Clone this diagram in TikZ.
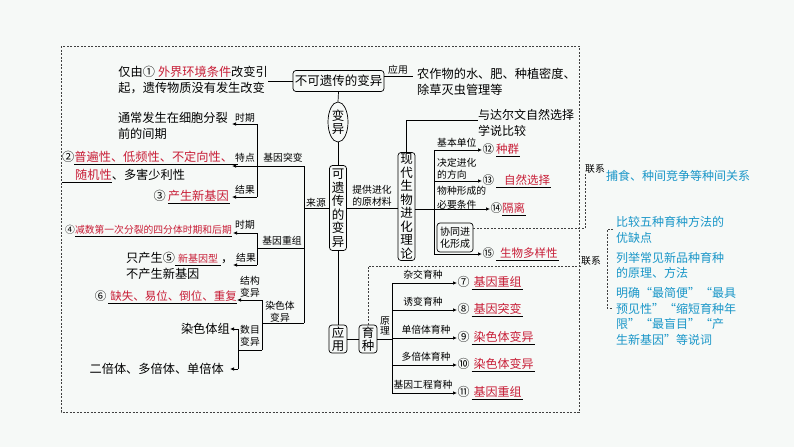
\documentclass[tikz,border=0pt]{standalone}
\usepackage{fontspec}
\setmainfont{Noto Sans CJK SC}
\usetikzlibrary{shapes.geometric,arrows.meta}
\definecolor{ansred}{RGB}{200,30,55}
\definecolor{tealc}{RGB}{25,150,200}
\definecolor{bgc}{RGB}{246,249,247}
\newcommand{\ans}[1]{\textcolor{ansred}{#1}}
\begin{document}
\begin{tikzpicture}[x=1pt,y=-1pt,
  box/.style={draw, rounded corners=3pt, line width=0.7pt, inner sep=1pt, align=center, font=\fontsize{12.5}{13.5}\selectfont},
  vbox/.style={box, minimum width=17pt},
  lab/.style={inner sep=0pt, font=\fontsize{9.8}{11.5}\selectfont, align=left},
  txt/.style={inner sep=0pt, font=\fontsize{12.2}{15.5}\selectfont, align=left},
  ansn/.style={inner sep=0.5pt, anchor=west, font=\fontsize{12}{14}\selectfont},
  tealt/.style={inner sep=0pt, text=tealc, font=\fontsize{12}{15.6}\selectfont, align=left},
  arr/.style={line width=0.7pt, -{Latex[length=4pt,width=3.5pt]}},
  ln/.style={line width=0.7pt},
  dsh/.style={line width=0.6pt, dash pattern=on 2pt off 1.5pt, draw=black!75},
]
\useasboundingbox (0,0) rectangle (794,447);
\fill[bgc] (0,0) rectangle (794,447);

% outer dashed frame
\draw[dsh] (61,46) rectangle (579,412);

% ---------- boxes ----------
\node[box, minimum width=91pt, minimum height=21pt] (bkyc) at (338.5,81) {不可遗传的变异};
\node[draw, ellipse, line width=0.7pt, minimum width=20pt, minimum height=40pt, inner sep=0pt, align=center, font=\fontsize{12.5}{13.5}\selectfont] (by) at (338,122) {变\\异};
\node[vbox, minimum height=85pt] (kyc) at (338,208) {可\\遗\\传\\的\\变\\异};
\node[vbox, minimum width=18pt, minimum height=28pt, font=\fontsize{12.5}{13}\selectfont] (yy) at (338,339) {应\\用};
\node[vbox, minimum width=18pt, minimum height=28pt, font=\fontsize{12.5}{13}\selectfont] (yz) at (368,339) {育\\种};
\node[vbox, minimum height=108pt] (xd) at (406.5,206.5) {现\\代\\生\\物\\进\\化\\理\\论};
\node[box, minimum width=36pt, minimum height=29pt, font=\fontsize{10}{12}\selectfont] (xt) at (455,237.5) {协同进\\化形成};

% ---------- top ----------
\node[txt, anchor=east] (t1) at (268,80) {仅由①\underline{\hspace{3pt}\ans{外界环境条件}}改变引\\起，遗传物质没有发生改变};
\node[txt, anchor=west] (t2) at (417,82) {农作物的水、肥、种植密度、\\除草灭虫管理等};
\draw[ln] (bkyc.west) -- (bkyc.west -| t1.east);
\draw[ln, shorten >=4pt] ([yshift=5pt]bkyc.east) -- ([yshift=5pt]bkyc.east -| t2.west);
\node[lab] at (398,70) {应用};

\draw[ln] (bkyc.south) -- (by.north);
\draw[ln] (by.south) -- (kyc.north);
\draw[ln] (kyc.south) -- (yy.north);
\draw[ln] (yy.east) -- (yz.west);

% ---------- left: sources ----------
\coordinate (L1) at (304,166);
\coordinate (L2) at (304,248);
\coordinate (L3) at (304,323);
\draw[ln] (kyc.west) -- (kyc.west -| L1);
\draw[ln] (L1) -- (L3);
\node[lab] at (316,203) {来源};

% gene mutation
\coordinate (A1) at (257,124); \coordinate (A2) at (257,166); \coordinate (A3) at (257,197);
\coordinate (TA1) at (232,124); \coordinate (TA2) at (232,166); \coordinate (TA3) at (232,197);
\draw[ln] (L1) -- (A2);
\draw[ln] (A1) -- (A3);
\draw[arr] (A1) -- (TA1);
\draw[arr] (A2) -- (TA2);
\draw[arr] (A3) -- (TA3);
\node[lab] at (283,158) {基因突变};
\node[lab] at (245,118) {时期};
\node[lab] at (245,158) {特点};
\node[lab] at (245,190) {结果};
\node[txt, anchor=east] (t3) at (228,126) {通常发生在细胞分裂\\前的间期};
\node[txt, anchor=west, font=\fontsize{12.2}{17.5}\selectfont] (t4) at (62,167) {②\underline{\ans{普遍性、低频性、不定向性、}\hspace{5pt}}\\\underline{\hspace{13pt}\ans{随机性}}、多害少利性};
\node[txt, anchor=east] (t5) at (230,197) {③\,\underline{\ans{产生新基因}\hspace{1pt}}};

% gene recombination
\coordinate (B1) at (257,233); \coordinate (B2) at (257,248); \coordinate (B3) at (257,265);
\coordinate (TB1) at (233,233); \coordinate (TB3) at (233,265);
\draw[ln] (L2) -- (B2);
\draw[ln] (B1) -- (B3);
\draw[arr] (B1) -- (TB1);
\draw[arr] (B3) -- (TB3);
\node[lab] at (282,241) {基因重组};
\node[lab] at (245,225) {时期};
\node[lab] at (246,258) {结果};
\node[txt, anchor=east, font=\fontsize{9.8}{12}\selectfont] (t6) at (232,231) {④\underline{\ans{减数第一次分裂的四分体时期和后期}}};
\node[txt, anchor=west] (t7) at (126,266) {只产生⑤\underline{\hspace{3pt}{\fontsize{10}{12}\selectfont\ans{新基因型}}\hspace{3pt}}，\\不产生新基因};

% chromosome variation
\coordinate (C1) at (262,300); \coordinate (C2) at (262,323); \coordinate (C3) at (262,350);
\coordinate (D1) at (238,329); \coordinate (D2) at (238,350); \coordinate (D3) at (238,369);
\draw[ln] (L3) -- (C2);
\draw[ln] (C1) -- (C3);
\draw[ln] (C3) -- (D2);
\draw[ln] (D1) -- (D3);
\node[txt, anchor=east, font=\fontsize{11.5}{14}\selectfont] (t8) at (237,297) {⑥\,\underline{\hspace{2pt}\ans{缺失、易位、倒位、重复}}};
\node[txt, anchor=east] (t9) at (230,329) {染色体组};
\node[txt, anchor=east] (t10) at (224,369) {二倍体、多倍体、单倍体};
\draw[arr] (C1) -- (C1 -| t8.east);
\draw[arr] (D1) -- (D1 -| t9.east);
\draw[arr] (D3) -- ([xshift=6pt]D3 -| t10.east);
\node[lab, align=center] at (250,287) {结构\\变异};
\node[lab, align=center] at (280,312) {染色体\\变异};
\node[lab, align=center] at (250,336) {数目\\变异};

% ---------- evolution theory ----------
\draw[ln] (kyc.east) -- (kyc.east -| xd.west);
\node[lab, align=left] at (372,196) {提供进化\\的原材料};
\node[txt, anchor=west, font=\fontsize{12}{15.5}\selectfont] (tdw) at (478,123) {与达尔文自然选择\\学说比较};
\draw[ln] (xd.north) |- ([yshift=3pt]tdw.west);

\node[ansn, font=\fontsize{11.5}{14}\selectfont] (a12) at (482,150) {⑫\,\underline{\ans{种群}\hspace{1pt}}};
\node[ansn, font=\fontsize{11.5}{14}\selectfont] (a13) at (482,181) {⑬\,\underline{\hspace{8pt}\ans{自然选择}\hspace{1pt}}};
\node[ansn, font=\fontsize{11.5}{14}\selectfont] (a14) at (490,209) {⑭\underline{\ans{隔离}\hspace{1pt}}};
\node[ansn, font=\fontsize{11.5}{14}\selectfont] (a15) at (482,254) {⑮\,\underline{\hspace{4pt}\ans{生物多样性}\hspace{1pt}}};
\coordinate (R) at (434,200);
\draw[ln] (a12.west -| R) -- (a15.west -| R);
\draw[arr] (a12.west -| R) -- (a12.west);
\draw[arr] (a13.west -| R) -- (a13.west);
\draw[arr] (xd.east |- a14.west) -- (a14.west);
\draw[arr] (a15.west -| R) -- (a15.west);
\node[lab, anchor=west] at (437,143) {基本单位};
\node[lab, anchor=west, font=\fontsize{9.8}{12}\selectfont] at (437,169) {决定进化\\的方向};
\node[lab, anchor=west, font=\fontsize{9.8}{14}\selectfont] at (437,197.5) {物种形成的\\必要条件};

% ---------- breeding ----------
\node[ansn] (a7) at (457,283) {⑦\,\underline{\hspace{2pt}\ans{基因重组}\hspace{1pt}}};
\node[ansn] (a8) at (457,310) {⑧\,\underline{\hspace{2pt}\ans{基因突变}\hspace{1pt}}};
\node[ansn] (a9) at (457,338) {⑨\,\underline{\hspace{2pt}\ans{染色体变异}\hspace{1pt}}};
\node[ansn] (a10) at (457,365) {⑩\,\underline{\hspace{2pt}\ans{染色体变异}\hspace{1pt}}};
\node[ansn] (a11) at (457,393) {⑪\,\underline{\hspace{2pt}\ans{基因重组}\hspace{1pt}}};
\coordinate (Z) at (392,339);
\draw[ln] (yz.east) -- (yz.east -| Z);
\draw[ln] (a7.west -| Z) -- (a11.west -| Z);
\foreach \n in {a7,a8,a9,a10,a11} \draw[arr] (\n.west -| Z) -- (\n.west);
\node[lab, align=center, font=\fontsize{9.8}{10.5}\selectfont] at (385,326) {原\\理};
\node[lab] at (423,275) {杂交育种};
\node[lab] at (423,302) {诱变育种};
\node[lab] at (426,330) {单倍体育种};
\node[lab] at (426,357) {多倍体育种};
\node[lab] at (423,385) {基因工程育种};

% ---------- links ----------
\node[lab, anchor=south west] (lx1) at (585,174) {联系};
\node[lab, anchor=south west] (lx2) at (581,266) {联系};
\draw[dsh] ([yshift=9pt]xt.east) -| (lx1.south west);
\draw[dsh] (yz.north) |- (lx2.south west);
\draw[dsh] (613,229) -- (607,229) -- (607,308) -- (613,308);

\node[tealt, anchor=west] (q0) at (606,176) {捕食、种间竞争等种间关系};
\node[tealt, anchor=west] (q1) at (616,230) {比较五种育种方法的\\优缺点};
\node[tealt, anchor=west] (q2) at (616,265.5) {列举常见新品种育种\\的原理、方法};
\node[tealt, anchor=west] (q3) at (616,316.5) {明确“最简便”“最具\\预见性”“缩短育种年\\限”“最盲目”“产\\生新基因”等说词};
\end{tikzpicture}
\end{document}
